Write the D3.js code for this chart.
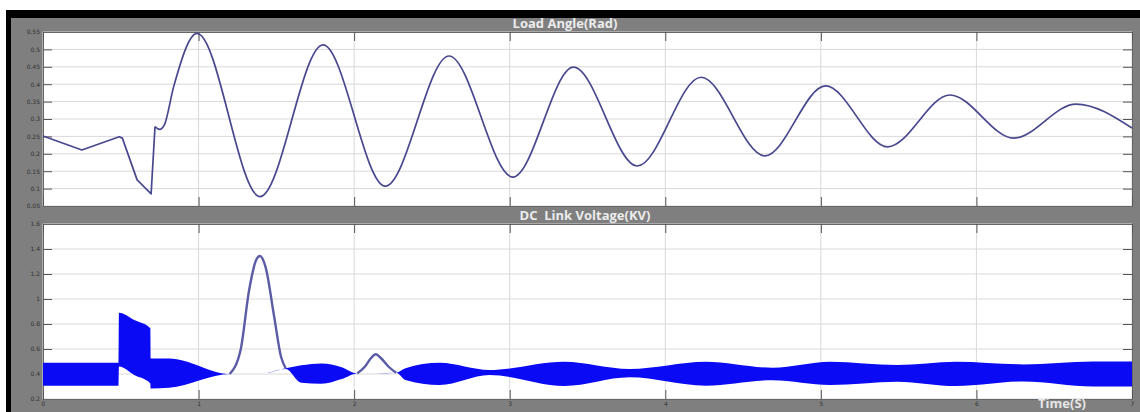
<!DOCTYPE html>
<html>
<head>
<meta charset="utf-8">
<script src="https://cdn.jsdelivr.net/npm/d3@7"></script>
<style>
  body { margin: 0; background: #fff; }
  svg { display: block; }
</style>
</head>
<body>
<svg id="chart"></svg>
<script>
// --- data ---
var xTicks = [0, 1, 2, 3, 4, 5, 6, 7];
var angleTicks = [0.05, 0.1, 0.15, 0.2, 0.25, 0.3, 0.35, 0.4, 0.45, 0.5, 0.55];
var dcTicks = [0.2, 0.4, 0.6, 0.8, 1, 1.2, 1.4, 1.6];

// load angle (rad)
var angleTime = [0, 0.25, 0.49, 0.51, 0.605, 0.695, 0.72, 0.75, 0.78, 0.84, 0.99, 1.395, 1.80, 2.20, 2.61, 3.02, 3.41, 3.82, 4.23, 4.64, 5.03, 5.43, 5.83, 6.24, 6.64, 7.0];
var angleValue = [0.251, 0.211, 0.249, 0.245, 0.125, 0.085, 0.278, 0.270, 0.283, 0.393, 0.546, 0.077, 0.513, 0.107, 0.481, 0.133, 0.449, 0.165, 0.420, 0.194, 0.395, 0.220, 0.369, 0.245, 0.343, 0.274];

// dc link voltage: envelope of the fast ripple
var dcTime  = [0, 0.486, 0.488, 0.59, 0.69, 0.692, 0.81, 1.206, 1.394, 1.56, 1.66, 1.79, 1.92, 2.02, 2.14, 2.27, 2.33, 2.55, 2.87, 3.35, 3.77, 4.26, 4.69, 5.06, 5.49, 5.87, 6.30, 6.75, 7.0];
var dcUpper = [0.49, 0.49, 0.89, 0.83, 0.766, 0.525, 0.525, 0.40, 0.40, 0.446, 0.47, 0.485, 0.455, 0.405, 0.405, 0.41, 0.446, 0.49, 0.432, 0.498, 0.44, 0.498, 0.45, 0.498, 0.472, 0.498, 0.477, 0.50, 0.50];
var dcLower = [0.306, 0.306, 0.46, 0.39, 0.325, 0.285, 0.29, 0.40, 0.40, 0.44, 0.33, 0.322, 0.36, 0.405, 0.405, 0.41, 0.352, 0.312, 0.392, 0.304, 0.374, 0.307, 0.35, 0.312, 0.339, 0.304, 0.34, 0.30, 0.30];

// thin parts (spike and small bump)
var spikeTime  = [1.20, 1.27, 1.325, 1.37, 1.394, 1.43, 1.486, 1.53, 1.56];
var spikeValue = [0.40, 0.592, 1.072, 1.312, 1.344, 1.259, 0.858, 0.538, 0.446];
var bumpTime  = [2.02, 2.07, 2.11, 2.14, 2.17, 2.22, 2.27];
var bumpValue = [0.405, 0.46, 0.53, 0.558, 0.53, 0.46, 0.41];

var W = 1140, H = 412;
var svg = d3.select("#chart").attr("width", W).attr("height", H);

// frame
svg.append("rect").attr("x", 6).attr("y", 10).attr("width", W - 6).attr("height", H - 10).attr("fill", "#000");
svg.append("rect").attr("x", 11).attr("y", 18).attr("width", W - 11).attr("height", H - 18).attr("fill", "#7f7f7f");

var left = 43, right = 1132;
var xScale = d3.scaleLinear().domain([0, 7]).range([left, right]);

function panel(top, bottom, yDomain, ticks, title, titleX) {
    var yScale = d3.scaleLinear().domain(yDomain).range([bottom, top]);
    var g = svg.append("g");
    g.append("rect")
        .attr("x", left).attr("y", top)
        .attr("width", right - left).attr("height", bottom - top)
        .attr("fill", "#fff");
    // grid
    g.selectAll(".hgrid").data(ticks).enter().append("line")
        .attr("x1", left).attr("x2", right)
        .attr("y1", function (d) { return yScale(d); })
        .attr("y2", function (d) { return yScale(d); })
        .attr("stroke", "#d9d9d9").attr("stroke-width", 1);
    g.selectAll(".vgrid").data(xTicks).enter().append("line")
        .attr("y1", top).attr("y2", bottom)
        .attr("x1", function (d) { return xScale(d); })
        .attr("x2", function (d) { return xScale(d); })
        .attr("stroke", "#d9d9d9").attr("stroke-width", 1);
    // axes, ticks pointing inward
    var yAxis = d3.axisLeft(yScale).tickValues(ticks).tickSize(-9).tickPadding(3)
        .tickFormat(function (d) { return String(d); });
    var yAxisR = d3.axisRight(yScale).tickValues(ticks).tickSize(-9).tickFormat("");
    var xTop = d3.axisTop(xScale).tickValues(xTicks).tickSize(-9).tickFormat("");
    var ya = g.append("g").attr("transform", "translate(" + left + ",0)").call(yAxis);
    g.append("g").attr("transform", "translate(" + right + ",0)").call(yAxisR);
    g.append("g").attr("transform", "translate(0," + top + ")").call(xTop);
    g.selectAll(".domain").attr("stroke", "#666");
    g.selectAll(".tick line").attr("stroke", "#555");
    ya.selectAll("text").attr("font-size", 6).attr("fill", "#333").attr("font-family", "DejaVu Sans");
    // title
    svg.append("text")
        .attr("x", titleX).attr("y", top - 4)
        .attr("text-anchor", "middle")
        .attr("font-family", "Open Sans").attr("font-weight", "bold").attr("font-size", 13)
        .attr("fill", "#ececec")
        .style("white-space", "pre")
        .text(title);
    return { g: g, y: yScale, top: top, bottom: bottom };
}

var p1 = panel(32, 206, [0.05, 0.55], angleTicks, "Load Angle(Rad)", 565);
var p2 = panel(224, 399, [0.2, 1.6], dcTicks, "DC  Link Voltage(KV)", 585);

// bottom x axis with labels
var xAxis = d3.axisBottom(xScale).tickValues(xTicks).tickSize(-9).tickPadding(3)
    .tickFormat(function (d) { return String(d); });
var xa = p2.g.append("g").attr("transform", "translate(0," + p2.bottom + ")").call(xAxis);
xa.selectAll(".tick line").attr("stroke", "#555");
xa.select(".domain").attr("stroke", "#666");
xa.selectAll("text").attr("font-size", 6).attr("fill", "#333").attr("font-family", "DejaVu Sans");
var x1 = p1.g.append("g").attr("transform", "translate(0," + p1.bottom + ")")
    .call(d3.axisBottom(xScale).tickValues(xTicks).tickSize(-9).tickFormat(""));
x1.selectAll(".tick line").attr("stroke", "#555");
x1.select(".domain").attr("stroke", "#666");

// load angle line
var angleData = angleTime.map(function (t, i) { return { t: t, v: angleValue[i] }; });
var transient = angleData.filter(function (d) { return d.t <= 0.72; });
var swing = angleData.filter(function (d) { return d.t >= 0.72; });
var lineLin = d3.line()
    .x(function (d) { return xScale(d.t); })
    .y(function (d) { return p1.y(d.v); });
var lineSmooth = d3.line()
    .curve(d3.curveMonotoneX)
    .x(function (d) { return xScale(d.t); })
    .y(function (d) { return p1.y(d.v); });
[[transient, lineLin], [swing, lineSmooth]].forEach(function (s) {
    p1.g.append("path")
        .attr("d", s[1](s[0]))
        .attr("fill", "none")
        .attr("stroke", "#48488f")
        .attr("stroke-width", 1.7)
        .attr("stroke-linejoin", "round");
});

// dc link band
var dcData = dcTime.map(function (t, i) { return { t: t, hi: dcUpper[i], lo: dcLower[i] }; });
var band = d3.area()
    .curve(d3.curveMonotoneX)
    .x(function (d) { return xScale(d.t); })
    .y0(function (d) { return p2.y(d.lo); })
    .y1(function (d) { return p2.y(d.hi); });
p2.g.append("path")
    .attr("d", band(dcData))
    .attr("fill", "#0a0af5");

var thinLine = d3.line()
    .curve(d3.curveMonotoneX)
    .x(function (d) { return xScale(d.t); })
    .y(function (d) { return p2.y(d.v); });
[[spikeTime, spikeValue], [bumpTime, bumpValue]].forEach(function (s) {
    var pts = s[0].map(function (t, i) { return { t: t, v: s[1][i] }; });
    p2.g.append("path")
        .attr("d", thinLine(pts))
        .attr("fill", "none")
        .attr("stroke", "#5b5ba6")
        .attr("stroke-width", 2.4);
});

// x label
svg.append("text")
    .attr("x", 1062).attr("y", 408)
    .attr("text-anchor", "middle")
    .attr("font-family", "Open Sans").attr("font-weight", "bold").attr("font-size", 13)
    .attr("fill", "#e6e6e6")
    .text("Time(S)");
</script>
</body>
</html>
